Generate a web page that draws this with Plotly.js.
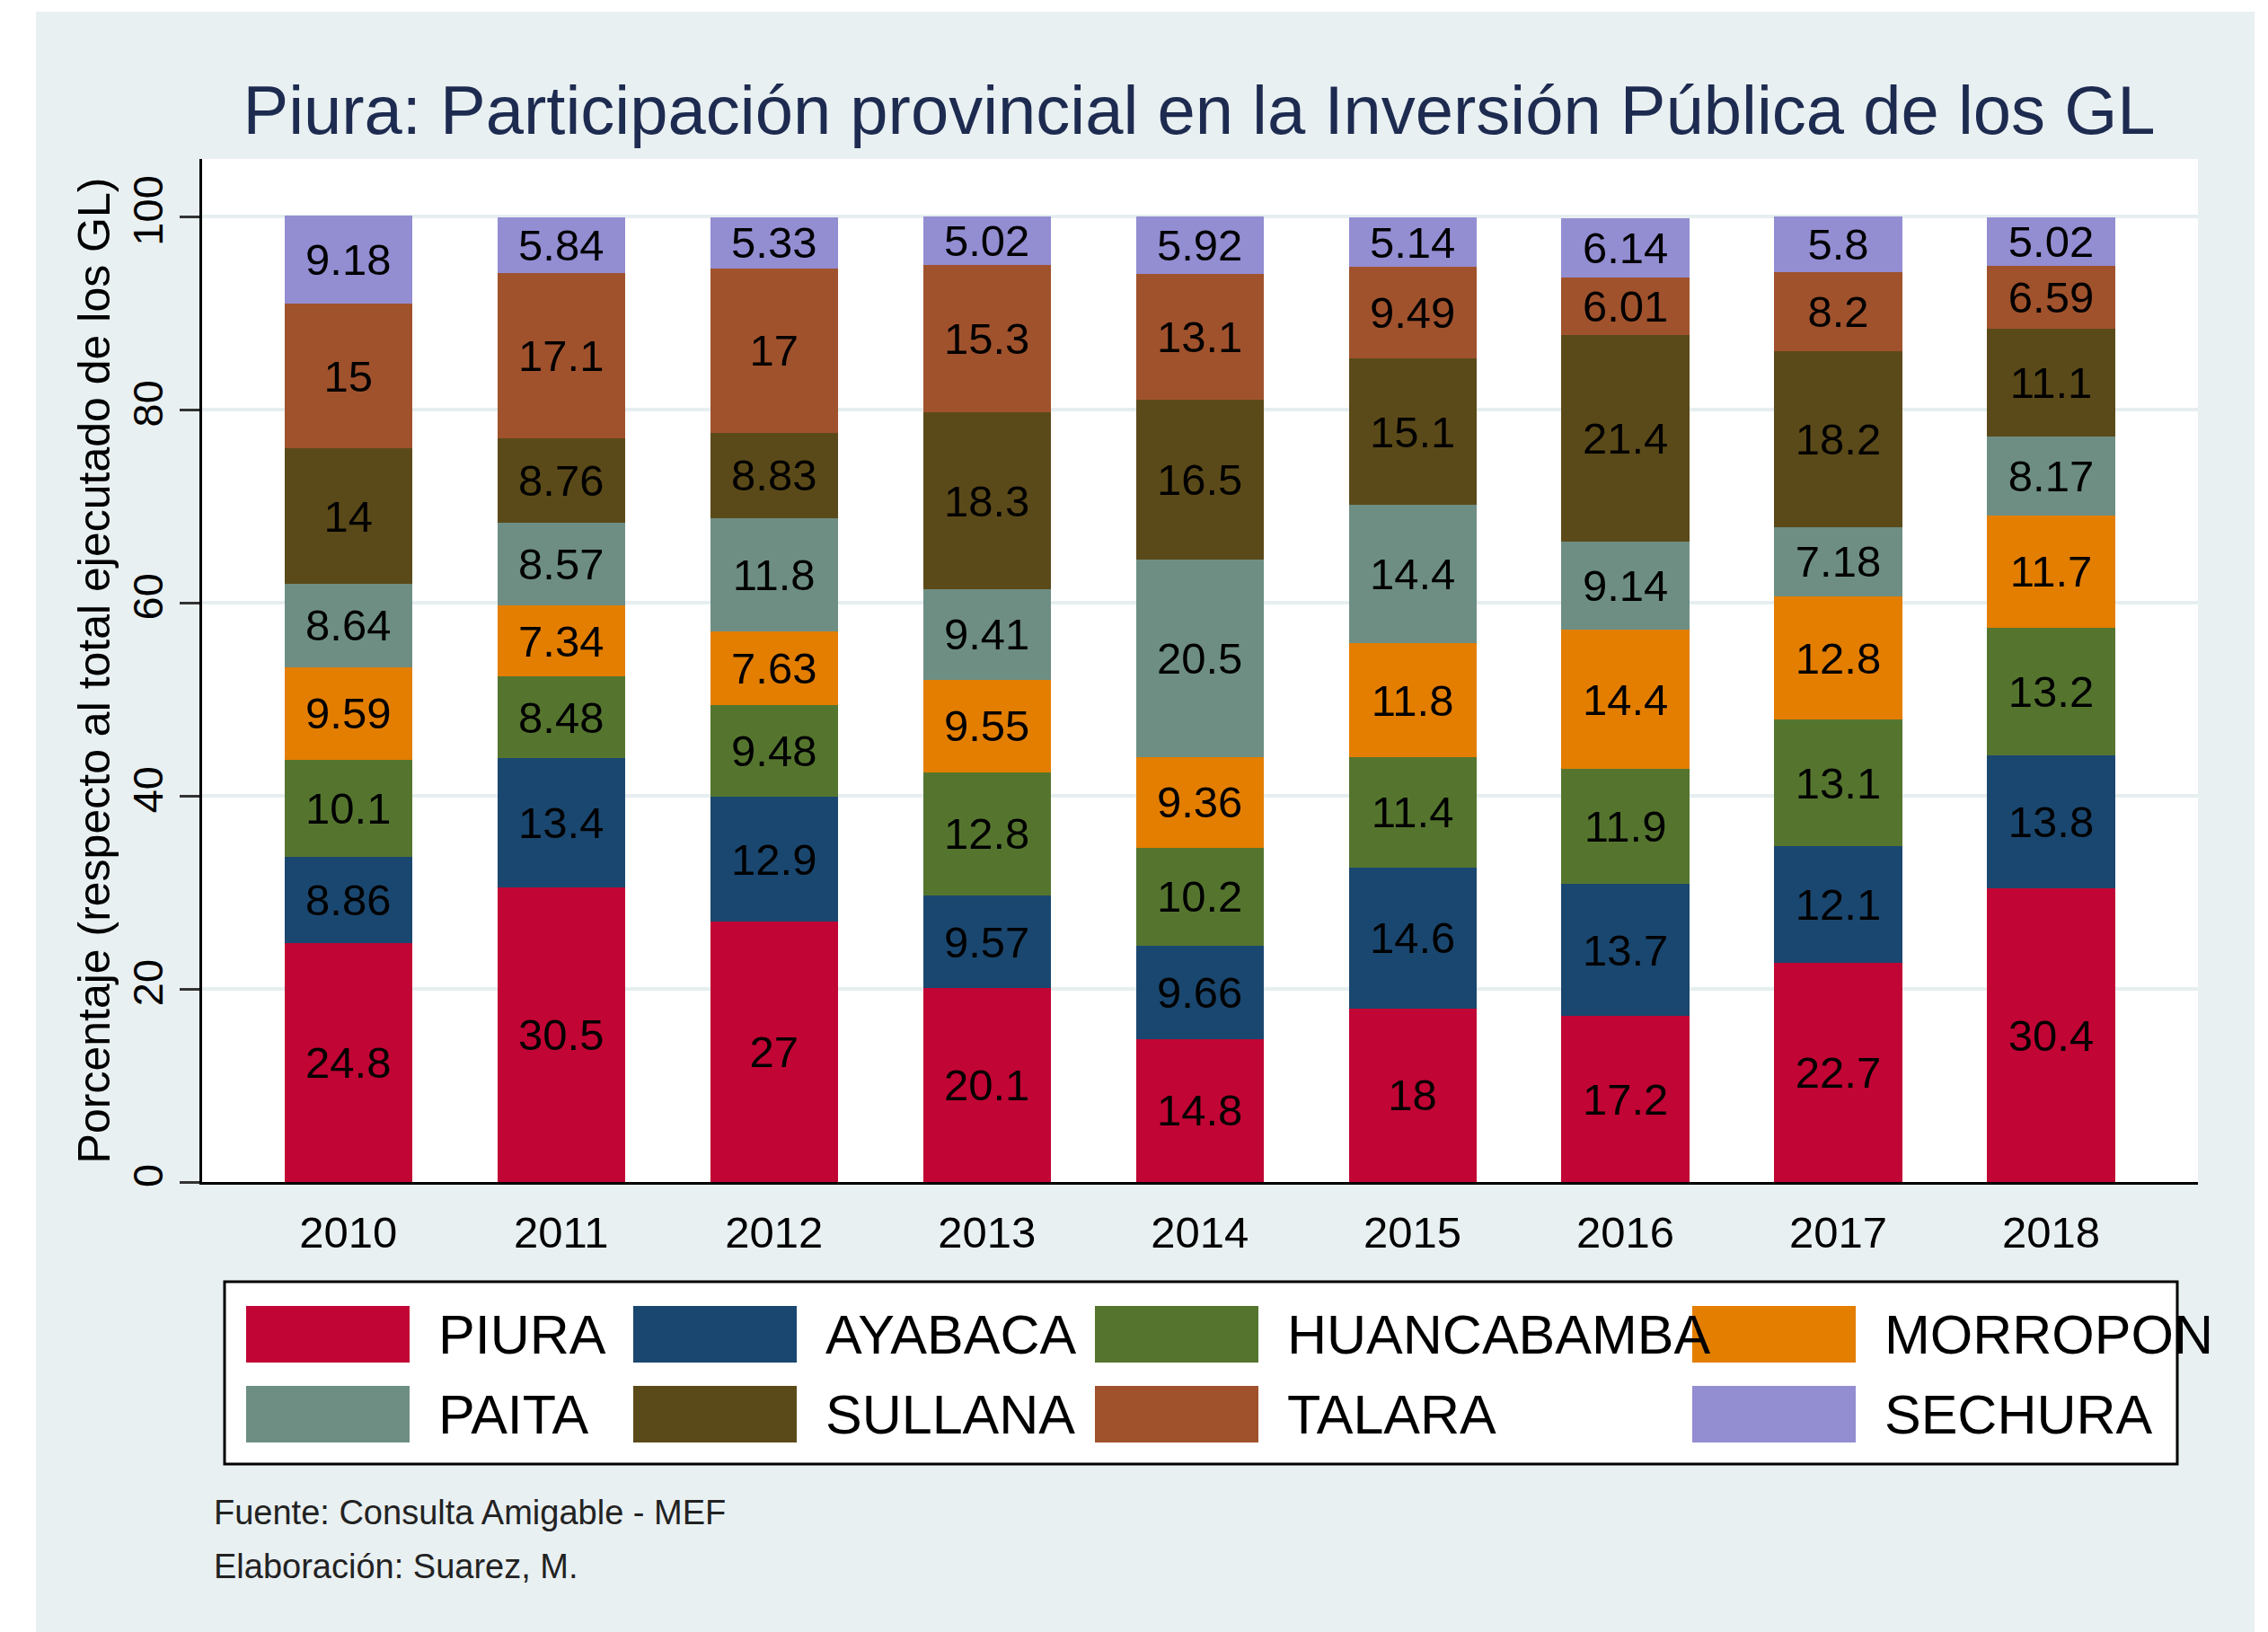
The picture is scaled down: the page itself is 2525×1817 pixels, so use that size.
<!DOCTYPE html>
<html>
<head>
<meta charset="utf-8">
<script src="https://cdn.plot.ly/plotly-3.0.1.min.js"></script>
<style>html,body{margin:0;padding:0;background:#fff;}#chart{width:2525px;height:1817px;}</style>
</head>
<body>
<div id="chart"></div>
<script>
// ---------------- DATA ----------------
const years = ['2010', '2011', '2012', '2013', '2014', '2015', '2016', '2017', '2018'];
const provinces = ['PIURA', 'AYABACA', 'HUANCABAMBA', 'MORROPON', 'PAITA', 'SULLANA', 'TALARA', 'SECHURA'];
const piura       = [24.8, 30.5, 27,   20.1, 14.8, 18,   17.2, 22.7, 30.4];
const ayabaca     = [8.86, 13.4, 12.9, 9.57, 9.66, 14.6, 13.7, 12.1, 13.8];
const huancabamba = [10.1, 8.48, 9.48, 12.8, 10.2, 11.4, 11.9, 13.1, 13.2];
const morropon    = [9.59, 7.34, 7.63, 9.55, 9.36, 11.8, 14.4, 12.8, 11.7];
const paita       = [8.64, 8.57, 11.8, 9.41, 20.5, 14.4, 9.14, 7.18, 8.17];
const sullana     = [14,   8.76, 8.83, 18.3, 16.5, 15.1, 21.4, 18.2, 11.1];
const talara      = [15,   17.1, 17,   15.3, 13.1, 9.49, 6.01, 8.2,  6.59];
const sechura     = [9.18, 5.84, 5.33, 5.02, 5.92, 5.14, 6.14, 5.8,  5.02];
const yTicks = [0, 20, 40, 60, 80, 100];
const titleText = 'Piura: Participación provincial en la Inversión Pública de los GL';
const yTitleText = 'Porcentaje (respecto al total ejecutado de los GL)';
const notes = ['Fuente: Consulta Amigable - MEF', 'Elaboración: Suarez, M.'];

// ---------------- STYLE ----------------
const colors = ['#c10534', '#1a476f', '#55752f', '#e37e00', '#6e8e84', '#5b4a19', '#a0522d', '#938dd2'];
const FONT = 'Arial, "Liberation Sans", sans-serif';
const W = 2525, H = 1817;
const L = 225, R = 78, T = 177, B = 501;
const PW = W - L - R, PH = H - T - B;
const px = v => (v - L) / PW;
const py = v => (H - B - v) / PH;

const seriesValues = [piura, ayabaca, huancabamba, morropon, paita, sullana, talara, sechura];

const traces = provinces.map((name, i) => ({
  type: 'bar',
  name: name,
  x: years,
  y: seriesValues[i],
  text: seriesValues[i].map(v => String(v)),
  textposition: 'inside',
  insidetextanchor: 'middle',
  constraintext: 'none',
  textangle: 0,
  textfont: {family: FONT, size: 49, color: '#000'},
  marker: {color: colors[i], line: {width: 0}},
  hoverinfo: 'skip',
  showlegend: false
}));

const shapes = [
  // white outer strips
  {type: 'rect', xref: 'paper', yref: 'paper', x0: px(0), x1: px(W), y0: py(0), y1: py(13), fillcolor: '#fff', line: {width: 0}, layer: 'below'},
  {type: 'rect', xref: 'paper', yref: 'paper', x0: px(0), x1: px(40), y0: py(0), y1: py(H), fillcolor: '#fff', line: {width: 0}, layer: 'below'},
  {type: 'rect', xref: 'paper', yref: 'paper', x0: px(2510), x1: px(W), y0: py(0), y1: py(H), fillcolor: '#fff', line: {width: 0}, layer: 'below'},
  // legend box
  {type: 'rect', xref: 'paper', yref: 'paper', x0: px(250), x1: px(2424), y0: py(1427), y1: py(1630), fillcolor: '#fff', line: {color: '#000', width: 3}}
];
const annotations = [];
const swX = [274, 705, 1219, 1884];
const swY = [1454, 1543];
provinces.forEach((name, i) => {
  const r = Math.floor(i / 4), c = i % 4;
  shapes.push({type: 'rect', xref: 'paper', yref: 'paper',
    x0: px(swX[c]), x1: px(swX[c] + 182), y0: py(swY[r]), y1: py(swY[r] + 63),
    fillcolor: colors[i], line: {width: 0}});
  annotations.push({xref: 'paper', yref: 'paper', x: px(swX[c] + 212), y: py(swY[r] + 32),
    xanchor: 'left', yanchor: 'middle', showarrow: false, text: name,
    font: {family: FONT, size: 61, color: '#000'}});
});
notes.forEach((t, k) => {
  annotations.push({xref: 'paper', yref: 'paper', x: px(236), y: py(1684 + 60 * k),
    xanchor: 'left', yanchor: 'middle', showarrow: false, text: t,
    font: {family: FONT, size: 38, color: '#222'}});
});

const layout = {
  width: W, height: H,
  margin: {l: L, r: R, t: T, b: B, pad: 0},
  paper_bgcolor: '#e9f0f2',
  plot_bgcolor: '#ffffff',
  barmode: 'stack',
  bargap: 0.4,
  showlegend: false,
  title: {
    text: titleText,
    x: 1335 / W, xanchor: 'center',
    y: 1 - 122 / H, yanchor: 'middle',
    font: {family: FONT, size: 76, color: '#1e2b50'}
  },
  xaxis: {
    type: 'category',
    range: [-0.687, 8.69],
    showline: true, linecolor: '#000', linewidth: 3,
    ticks: '', showgrid: false, zeroline: false,
    tickfont: {family: FONT, size: 49, color: '#000'},
    ticklabelstandoff: 11,
    automargin: false
  },
  yaxis: {
    range: [0, 106],
    tickvals: yTicks,
    ticktext: yTicks.map(String),
    tickangle: -90,
    ticks: 'outside', ticklen: 22, tickwidth: 3, tickcolor: '#333',
    showline: true, linecolor: '#000', linewidth: 3,
    showgrid: true, gridcolor: '#e6eef0', gridwidth: 4,
    zeroline: false,
    tickfont: {family: FONT, size: 47, color: '#000'},
    title: {text: yTitleText, font: {family: FONT, size: 50, color: '#000'}, standoff: 0},
    automargin: false
  },
  shapes: shapes,
  annotations: annotations
};

Plotly.newPlot('chart', traces, layout, {staticPlot: true, displayModeBar: false});
</script>
</body>
</html>
